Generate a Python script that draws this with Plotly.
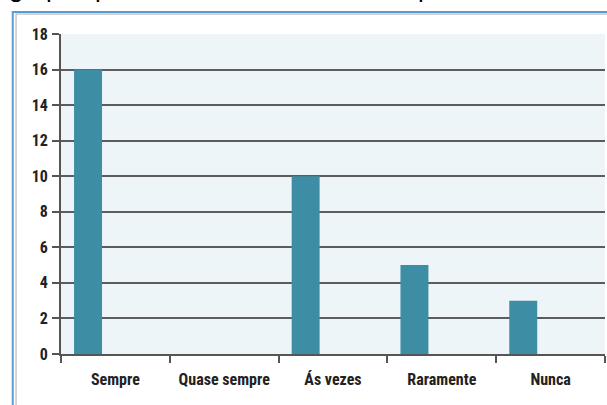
import plotly.graph_objects as go

categories = ["Sempre", "Quase sempre", "Ás vezes", "Raramente", "Nunca"]
values = [16, 0, 10, 5, 3]
y_ticks = list(range(0, 19, 2))

FONT = "Liberation Sans Narrow, Arial Narrow, Roboto Condensed, Open Sans, sans-serif"

fig = go.Figure()
fig.add_trace(go.Bar(
    x=categories, y=values,
    width=0.257, offset=-0.38,
    marker=dict(color="#3d8ea5", line=dict(width=0)),
    showlegend=False,
))

fig.update_layout(
    width=607, height=405,
    margin=dict(l=61, r=2, t=34, b=51),
    paper_bgcolor="white",
    plot_bgcolor="#eef5f9",
    font=dict(family=FONT, size=16, color="#222222"),
    xaxis=dict(
        type="category",
        showgrid=False,
        showline=True, linecolor="#555555", linewidth=2,
        ticks="outside", tickson="boundaries", ticklen=7, tickwidth=2, tickcolor="#555555",
        tickfont=dict(family=FONT, size=16, color="#222222", weight="bold"),
        ticklabelstandoff=10,
    ),
    yaxis=dict(
        range=[0, 18], tickvals=y_ticks, ticktext=[str(v) for v in y_ticks],
        showgrid=True, gridcolor="#5c5c5c", gridwidth=2,
        zeroline=False,
        showline=True, linecolor="#555555", linewidth=2,
        ticks="outside", ticklen=7, tickwidth=2, tickcolor="#555555",
        tickfont=dict(family=FONT, size=16, color="#222222", weight="bold"),
        ticklabelstandoff=1,
    ),
)

# outer frame (blue) and inner frame (gray), extending past the right/bottom edges
fig.add_shape(type="rect", xref="paper", yref="paper",
              x0=-0.0887, x1=1.1, y0=-0.3, y1=1.0685,
              line=dict(color="#5b9bd5", width=2), layer="below")
fig.add_shape(type="rect", xref="paper", yref="paper",
              x0=-0.0826, x1=1.1, y0=-0.3, y1=1.0625,
              line=dict(color="#c8c8c8", width=1.5), layer="below")

# clipped descenders of the text line above the chart
for ch, xp in [("g", -0.083), ("p", -0.014), ("p", 0.076), ("p", 0.669)]:
    fig.add_annotation(text=ch, xref="paper", yref="paper", x=xp, y=1.092,
                       xanchor="center", yanchor="bottom", showarrow=False,
                       font=dict(family="Liberation Sans, Arial, sans-serif", size=26, color="#000000"))

fig.write_html("out.html", config={"displayModeBar": False},
               post_script="document.body.style.margin='0';document.body.style.overflow='hidden';")
